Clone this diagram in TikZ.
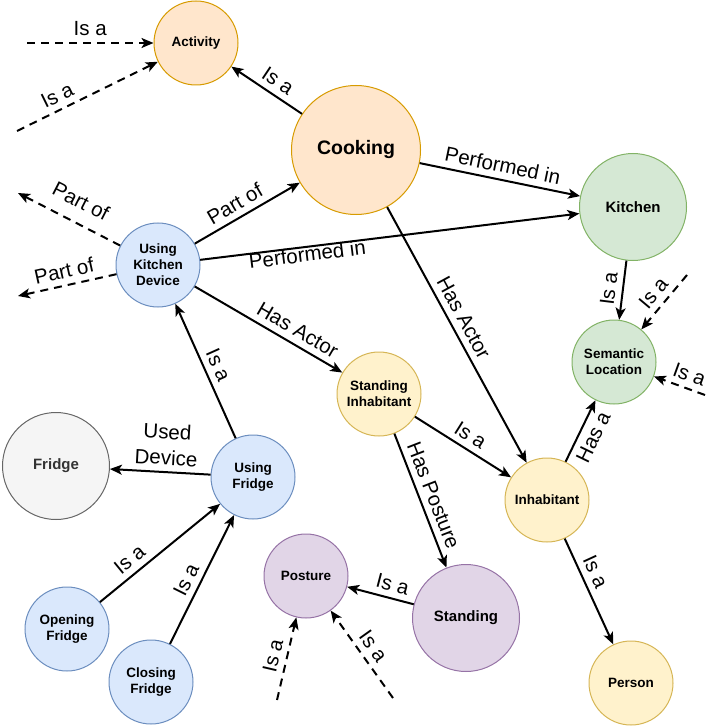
\documentclass[tikz,border=0pt]{standalone}
\usepackage{fontspec}
\setmainfont{Liberation Sans}
\usetikzlibrary{arrows.meta}
\definecolor{actfill}{HTML}{FFE6CC}\definecolor{actline}{HTML}{D79B00}
\definecolor{locfill}{HTML}{D5E8D4}\definecolor{locline}{HTML}{82B366}
\definecolor{usefill}{HTML}{DAE8FC}\definecolor{useline}{HTML}{6C8EBF}
\definecolor{agtfill}{HTML}{FFF2CC}\definecolor{agtline}{HTML}{D6B656}
\definecolor{posfill}{HTML}{E1D5E7}\definecolor{posline}{HTML}{9673A6}
\definecolor{objfill}{HTML}{F5F5F5}\definecolor{objline}{HTML}{666666}
\begin{document}
\begin{tikzpicture}[x=1pt,y=-1pt,
		ent/.style={circle,draw,line width=1pt,inner sep=0pt,minimum size=84pt,align=center,
			font=\fontsize{13.5}{16}\selectfont\bfseries},
		bigent/.style={minimum size=107pt,font=\fontsize{15}{17}\selectfont\bfseries},
		actnode/.style={fill=actfill,draw=actline},
		locnode/.style={fill=locfill,draw=locline},
		usenode/.style={fill=usefill,draw=useline},
		agtnode/.style={fill=agtfill,draw=agtline},
		posnode/.style={fill=posfill,draw=posline},
		objnode/.style={fill=objfill,draw=objline,text=black!80},
		rel/.style={line width=2pt,-{Stealth[length=12pt,width=10pt,inset=3pt]}},
		ext/.style={rel,dash pattern=on 8pt off 6pt},
		lbl/.style={sloped,above=6pt,inner sep=0pt,align=center,font=\fontsize{20.5}{26}\selectfont}]
		\useasboundingbox (0,0) rectangle (708,727);
		% classes
		\node[ent,actnode] (activity) at (196,43) {Activity};
		\node[ent,actnode,minimum size=129pt,font=\fontsize{19.5}{22}\selectfont\bfseries] (cooking) at (356,150) {Cooking};
		\node[ent,bigent,locnode] (kitchen) at (633,207) {Kitchen};
		\node[ent,locnode] (semloc) at (614,362) {Semantic\\Location};
		\node[ent,usenode] (kitchendev) at (158,265) {Using\\Kitchen\\Device};
		\node[ent,agtnode] (standinh) at (379,394) {Standing\\Inhabitant};
		\node[ent,agtnode] (inhabitant) at (547,500) {Inhabitant};
		\node[ent,agtnode] (person) at (631,683) {Person};
		\node[ent,bigent,posnode] (standing) at (466,618) {Standing};
		\node[ent,posnode] (posture) at (306,576) {Posture};
		\node[ent,usenode] (usefridge) at (253,477) {Using\\Fridge};
		\node[ent,bigent,objnode] (fridge) at (56,466) {Fridge};
		\node[ent,usenode] (openfridge) at (67,629) {Opening\\Fridge};
		\node[ent,usenode] (closefridge) at (151,682) {Closing\\Fridge};
		% loose ends
		\coordinate (actA) at (27,43);
		\coordinate (actB) at (17,131);
		\coordinate (partA) at (18,193);
		\coordinate (partB) at (18,296);
		\coordinate (locA) at (687,275);
		\coordinate (locB) at (705,395);
		\coordinate (posA) at (277,700);
		\coordinate (posB) at (393,698);
		% relations
		\draw[ext] (actA) -- (activity) node[lbl,midway] {Is a};
		\draw[ext] (actB) -- (activity) node[lbl,pos=.33] {Is a};
		\draw[rel] (cooking) -- (activity) node[lbl,pos=.45] {Is a};
		\draw[rel] (cooking) -- (kitchen) node[lbl,midway] {Performed in};
		\draw[rel] (kitchendev) -- (kitchen) node[lbl,pos=.28,below=5pt] {Performed in};
		\draw[rel] (kitchendev) -- (cooking) node[lbl,pos=.45] {Part of};
		\draw[ext] (kitchendev) -- (partA) node[lbl,pos=.48,above=7pt] {Part of};
		\draw[ext] (kitchendev) -- (partB) node[lbl,midway] {Part of};
		\draw[rel] (kitchendev) -- (standinh) node[lbl,pos=.65] {Has Actor};
		\draw[rel] (cooking) -- (inhabitant) node[lbl,pos=.46] {Has Actor};
		\draw[rel] (kitchen) -- (semloc) node[lbl,midway] {Is a};
		\draw[ext] (locA) -- (semloc) node[lbl,midway] {Is a};
		\draw[ext] (locB) -- (semloc) node[lbl,pos=.4] {Is a};
		\draw[rel] (inhabitant) -- (semloc) node[lbl,midway,below=12pt] {Has a};
		\draw[rel] (standinh) -- (inhabitant) node[lbl,midway] {Is a};
		\draw[rel] (standinh) -- (standing) node[lbl,midway] {Has Posture};
		\draw[rel] (standing) -- (posture) node[lbl,pos=.37] {Is a};
		\draw[ext] (posA) -- (posture) node[lbl,midway] {Is a};
		\draw[ext] (posB) -- (posture) node[lbl,midway] {Is a};
		\draw[rel] (usefridge) -- (kitchendev) node[lbl,midway] {Is a};
		\draw[rel] (usefridge) -- (fridge) node[lbl,pos=.45] {Used\\Device};
		\draw[rel] (openfridge) -- (usefridge) node[lbl,pos=.32] {Is a};
		\draw[rel] (closefridge) -- (usefridge) node[lbl,pos=.45] {Is a};
		\draw[rel] (inhabitant) -- (person) node[lbl,pos=.37] {Is a};
	\end{tikzpicture}
\end{document}
